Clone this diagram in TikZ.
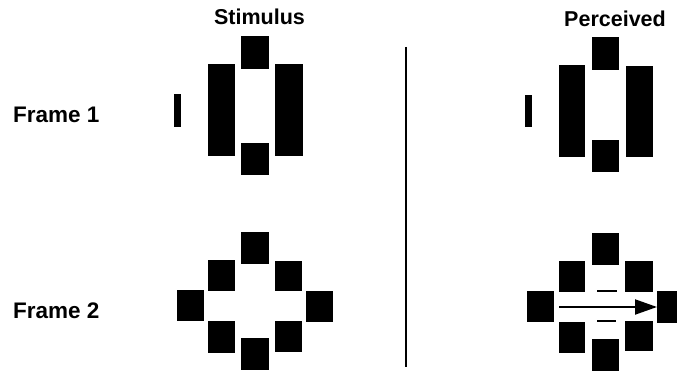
\documentclass[tikz,border=0pt]{standalone}
\usepackage{fontspec}
\setmainfont{Liberation Sans}
\usetikzlibrary{arrows.meta}
\begin{document}
\begin{tikzpicture}[x=1pt,y=-1pt,
  blk/.style={fill=black},
  lbl/.style={font=\fontsize{22.5}{24}\selectfont\bfseries, inner sep=0pt, anchor=base west},
  ttl/.style={font=\fontsize{21.5}{24}\selectfont\bfseries, inner sep=0pt, anchor=base}]
\useasboundingbox (0,0) rectangle (677,374);
% titles and labels
\node[ttl] (stim) at (259.5,25) {Stimulus};
\node[ttl] (perc) at (615,27) {Perceived};
\node[lbl] (f1) at (13,123) {Frame 1};
\node[lbl] (f2) at (13,318) {Frame 2};
% divider
\draw[line width=2pt] (406,47) -- (406,367);
% Stimulus frame 1
\fill[blk] (174,94) rectangle (181,127);
\fill[blk] (208,64) rectangle (235,156);
\fill[blk] (241,36) rectangle (269,69);
\fill[blk] (241,143) rectangle (269,175);
\fill[blk] (275,64) rectangle (303,156);
% Perceived frame 1
\fill[blk] (525,95) rectangle (532,127);
\fill[blk] (559,65) rectangle (585,157);
\fill[blk] (592,37) rectangle (619,70);
\fill[blk] (592,140) rectangle (619,172);
\fill[blk] (626,66) rectangle (653,157);
% Stimulus frame 2
\fill[blk] (241,232) rectangle (269,264);
\fill[blk] (208,260) rectangle (235,291);
\fill[blk] (275,261) rectangle (302,291);
\fill[blk] (177,290) rectangle (204,321);
\fill[blk] (306,291) rectangle (333,322);
\fill[blk] (208,321) rectangle (235,353);
\fill[blk] (275,321) rectangle (302,352);
\fill[blk] (241,338) rectangle (269,370);
% Perceived frame 2
\fill[blk] (592,233) rectangle (619,265);
\fill[blk] (559,261) rectangle (585,292);
\fill[blk] (625,261) rectangle (653,292);
\fill[blk] (527,291) rectangle (554,322);
\fill[blk] (657,291) rectangle (677,323);
\fill[blk] (559,322) rectangle (585,353);
\fill[blk] (625,321) rectangle (653,351);
\fill[blk] (592,339) rectangle (619,371);
\fill[blk] (597,290) rectangle (617,292);
\fill[blk] (597,320) rectangle (616,322);
% perceived motion arrow
\coordinate (a0) at (559,307);
\coordinate (a1) at (657,307);
\draw[line width=2pt, -{Triangle[length=22pt,width=15pt]}] (a0) -- (a1);
\end{tikzpicture}
\end{document}
